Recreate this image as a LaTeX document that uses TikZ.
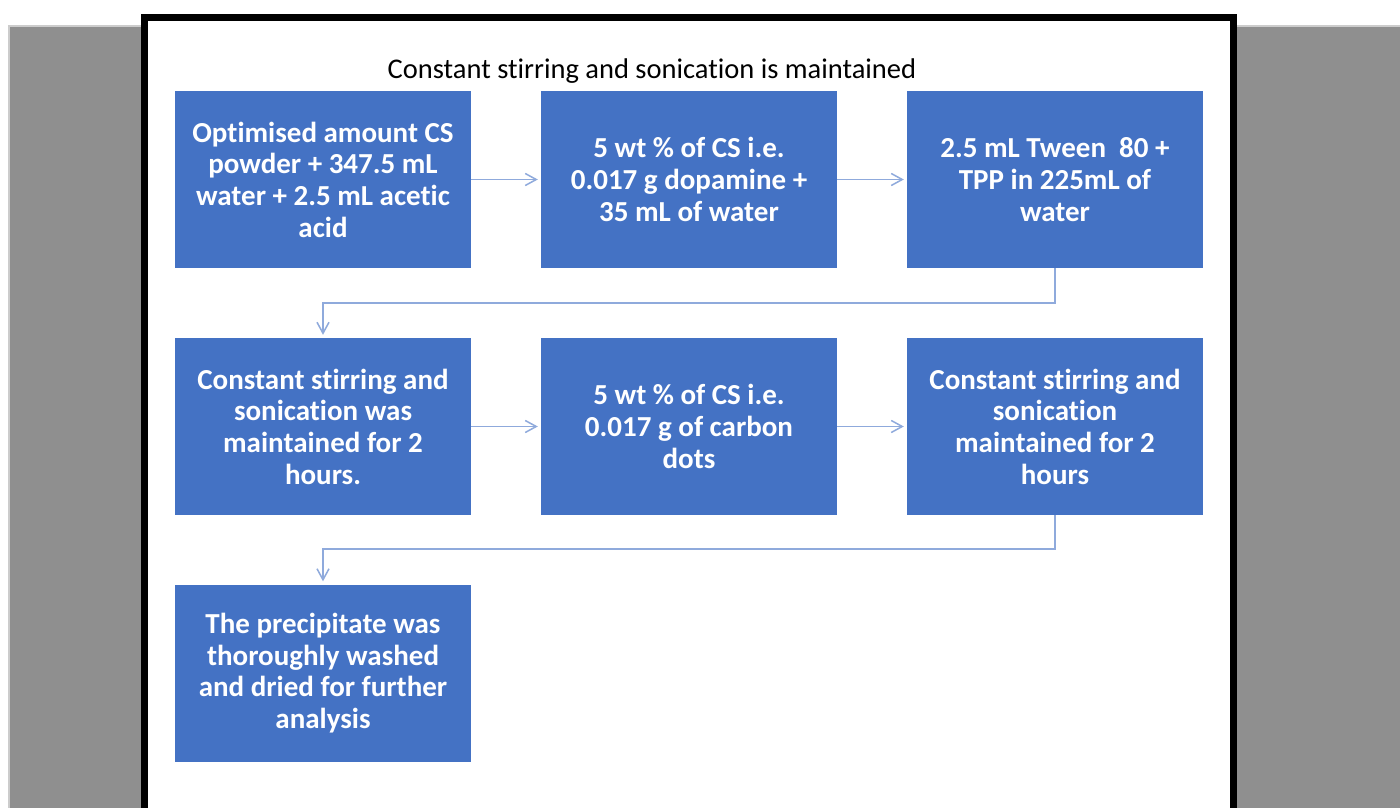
\documentclass[tikz,border=0pt]{standalone}
\usepackage{fontspec}
\setmainfont{Carlito}[Ligatures=NoCommon]
\usetikzlibrary{arrows.meta}
\definecolor{boxblue}{HTML}{4472C4}
\definecolor{connblue}{HTML}{8FAADC}
\definecolor{bggray}{HTML}{8F8F8F}
\tikzset{
  stepbox/.style={fill=boxblue, draw=none, minimum width=296pt, minimum height=177pt,
    inner sep=0pt, text=white, align=center,
    font=\fontsize{29}{31.7}\selectfont\bfseries},
  conn/.style={draw=connblue, line width=1.5pt,
    -{Straight Barb[length=11pt,width=12pt]}, shorten >=3pt}
}
\begin{document}
\begin{tikzpicture}[x=1pt,y=-1pt]
\useasboundingbox (0,0) rectangle (1400,808);
\fill[white] (0,0) rectangle (1400,808);
% gray side bands
\fill[black!20] (8,25) rectangle (143,808);
\fill[bggray] (10,27) rectangle (143,808);
\fill[black!20] (1237,25) rectangle (1400,808);
\fill[bggray] (1237,27) rectangle (1400,808);
% frame
\fill[white] (148,21) rectangle (1229,808);
\draw[line width=7pt] (144.5,830) -- (144.5,17.5) -- (1233,17.5) -- (1233,830);
% title
\node[font=\fontsize{28.5}{30}\selectfont] (title) at (652,71) {Constant stirring and sonication is maintained};
% boxes
\node[stepbox] (b1) at (323,179.5) {Optimised amount CS\\powder + 347.5 mL\\water + 2.5 mL acetic\\acid};
\node[stepbox] (b2) at (689,179.5) {5 wt \% of CS i.e.\\0.017 g dopamine +\\35 mL of water};
\node[stepbox] (b3) at (1055,179.5) {2.5 mL Tween~ 80 +\\TPP in 225mL of\\water};
\node[stepbox] (b4) at (323,426.5) {Constant stirring and\\sonication was\\maintained for 2\\hours.};
\node[stepbox] (b5) at (689,426.5) {5 wt \% of CS i.e.\\0.017 g of carbon\\dots};
\node[stepbox] (b6) at (1055,426.5) {Constant stirring and\\sonication\\maintained for 2\\hours};
\node[stepbox] (b7) at (323,673) {The precipitate was\\thoroughly washed\\and dried for further\\analysis};
% connectors
\draw[conn] (b1) -- (b2);
\draw[conn] (b2) -- (b3);
\draw[conn] (b3.south) -- ++(0,35) -| (b4.north);
\draw[conn] (b4) -- (b5);
\draw[conn] (b5) -- (b6);
\draw[conn] (b6.south) -- ++(0,34) -| (b7.north);
\end{tikzpicture}
\end{document}
